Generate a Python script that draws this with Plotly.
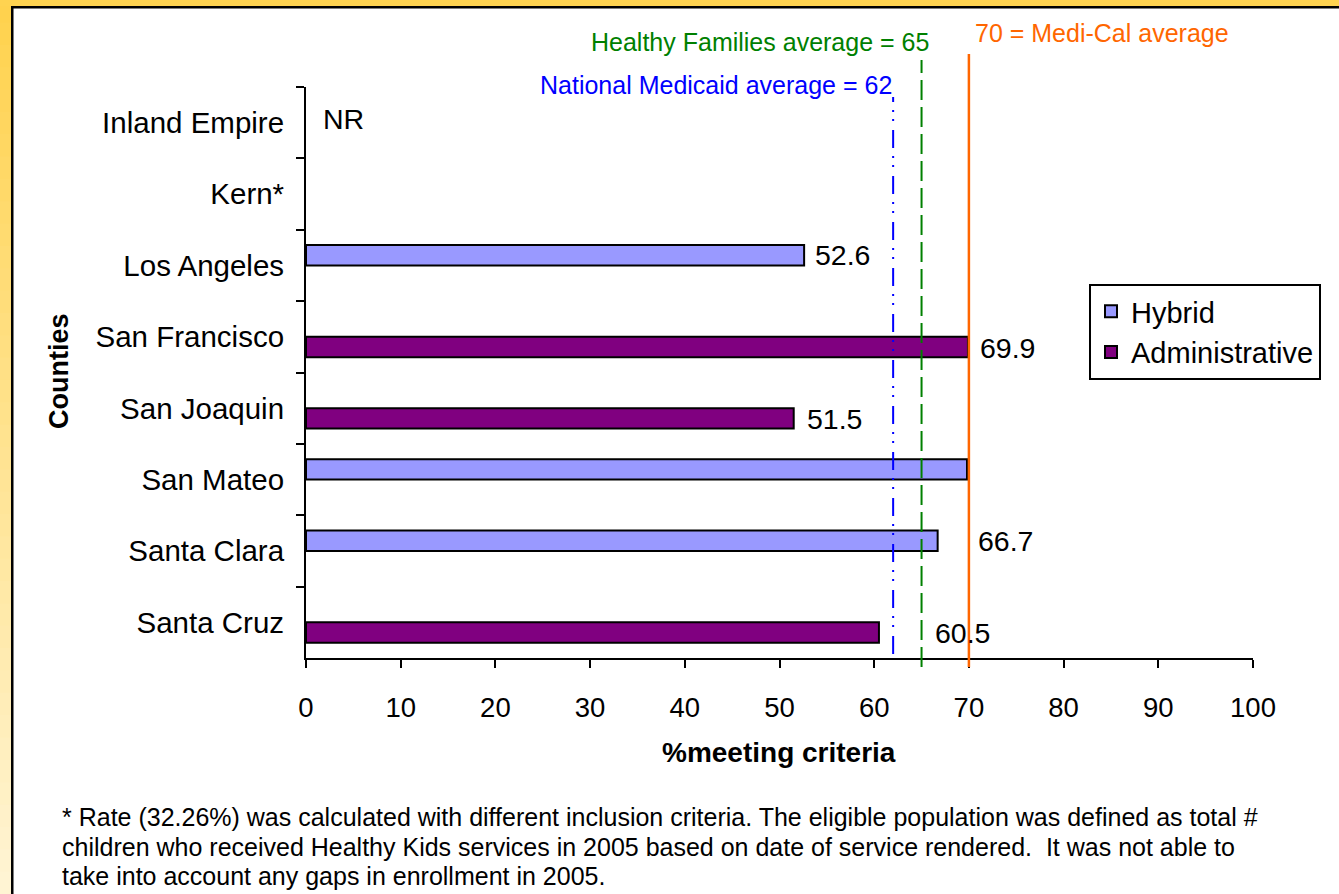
import plotly.graph_objects as go

# ---- data -----------------------------------------------------------------
counties = ["Inland Empire", "Kern*", "Los Angeles", "San Francisco",
            "San Joaquin", "San Mateo", "Santa Clara", "Santa Cruz"]
hybrid = [None, None, 52.6, None, None, 69.8, 66.7, None]
administrative = [None, None, None, 69.9, 51.5, None, None, 60.5]
labelled_counties = ["Los Angeles", "San Francisco", "San Joaquin",
                     "Santa Clara", "Santa Cruz"]
not_reported = ["Inland Empire"]
x_ticks = [0, 10, 20, 30, 40, 50, 60, 70, 80, 90, 100]

benchmark_values = [62, 65, 70]
benchmark_texts = ["National Medicaid average = 62",
                   "Healthy Families average = 65",
                   "70 = Medi-Cal average"]

footnote_lines = [
    "* Rate (32.26%) was calculated with different inclusion criteria. "
    "The eligible population was defined as total #",
    "children who received Healthy Kids services in 2005 based on date of "
    "service rendered.&nbsp; It was not able to",
    "take into account any gaps in enrollment in 2005.",
]

# ---- layout helpers -------------------------------------------------------
W, H = 1339, 894
PX_L, PX_R, PX_T, PX_B = 306, 1253, 87, 658
FONT = "Liberation Sans, Arial, sans-serif"


def px_x(px):
    return (px - PX_L) / (PX_R - PX_L)


def px_y(py):
    return (PX_B - py) / (PX_B - PX_T)


HYBRID_COLOR = "#9999FF"
ADMIN_COLOR = "#800080"

fig = go.Figure()
fig.add_trace(go.Bar(
    name="Hybrid", y=counties, x=hybrid, orientation="h",
    marker=dict(color=HYBRID_COLOR, line=dict(color="black", width=2)),
    legendgroup="h", hoverinfo="x+y",
))
fig.add_trace(go.Bar(
    name="Administrative", y=counties, x=administrative, orientation="h",
    marker=dict(color=ADMIN_COLOR, line=dict(color="black", width=2)),
    legendgroup="a", hoverinfo="x+y",
))

shapes = []
annotations = []

# frame: gradient strip on the left, band on top, black inner edge
n_steps = 40
c0 = (255, 210, 78)
c1 = (255, 244, 211)
for i in range(n_steps):
    t = i / (n_steps - 1)
    col = "rgb({},{},{})".format(*[round(a + (b - a) * t) for a, b in zip(c0, c1)])
    y0 = H * i / n_steps
    y1 = H * (i + 1) / n_steps + 1
    shapes.append(dict(type="rect", xref="paper", yref="paper", layer="below",
                       x0=px_x(0), x1=px_x(11), y0=px_y(y0), y1=px_y(y1),
                       fillcolor=col, line=dict(width=0)))
shapes.append(dict(type="rect", xref="paper", yref="paper", layer="below",
                   x0=px_x(0), x1=px_x(W + 2), y0=px_y(-2), y1=px_y(6),
                   fillcolor="rgb(255,211,80)", line=dict(width=0)))
shapes.append(dict(type="rect", xref="paper", yref="paper", layer="below",
                   x0=px_x(11), x1=px_x(W + 2), y0=px_y(6), y1=px_y(8.5),
                   fillcolor="black", line=dict(width=0)))
shapes.append(dict(type="rect", xref="paper", yref="paper", layer="below",
                   x0=px_x(11), x1=px_x(13.5), y0=px_y(6), y1=px_y(H + 2),
                   fillcolor="black", line=dict(width=0)))

# benchmark lines and their captions
line_styles = [
    dict(color="#0000FF", width=2, dash="18px,9px,2px,7px,2px,8px"),
    dict(color="#008000", width=2, dash="20px,7px"),
    dict(color="#FF6600", width=2.5, dash="solid"),
]
line_spans = [(97, 654), (60, 667), (54, 667)]
caption_pos = [  # (pixel y centre, anchor, x shift, colour)
    (85, "right", 1, "#0000FF"),
    (42, "right", 9, "#008000"),
    (33, "left", 4, "#FF6600"),
]
for val, txt, style, span, cap in zip(benchmark_values, benchmark_texts,
                                       line_styles, line_spans, caption_pos):
    shapes.append(dict(type="line", xref="x", yref="paper",
                       x0=val, x1=val, y0=px_y(span[1]), y1=px_y(span[0]),
                       line=style, layer="above"))
    annotations.append(dict(xref="x", yref="paper", x=val, y=px_y(cap[0]),
                            xanchor=cap[1], yanchor="middle", xshift=cap[2],
                            text=txt, showarrow=False,
                            font=dict(family=FONT, size=25, color=cap[3])))

# value labels beside bars
label_gap = {"Los Angeles": 9, "San Francisco": 10, "San Joaquin": 11,
             "Santa Clara": 38, "Santa Cruz": 54}
for county, h_val, a_val in zip(counties, hybrid, administrative):
    if county not in labelled_counties:
        continue
    val, shift = (h_val, 10) if h_val is not None else (a_val, -11)
    annotations.append(dict(xref="x", yref="y", x=val, y=county,
                            xanchor="left", yanchor="middle",
                            xshift=label_gap[county], yshift=shift,
                            text=f"{val:.1f}", showarrow=False,
                            font=dict(family=FONT, size=28.5, color="black")))
for county in not_reported:
    annotations.append(dict(xref="x", yref="y", x=0, y=county,
                            xanchor="left", yanchor="middle", xshift=15,
                            yshift=4, text="NR", showarrow=False,
                            font=dict(family=FONT, size=28.5, color="black")))

# axis titles
annotations.append(dict(xref="paper", yref="paper", x=px_x(779), y=px_y(752),
                        xanchor="center", yanchor="middle",
                        text="<b>%meeting criteria</b>", showarrow=False,
                        font=dict(family=FONT, size=28, color="black")))
annotations.append(dict(xref="paper", yref="paper", x=px_x(59), y=px_y(371),
                        xanchor="center", yanchor="middle", textangle=-90,
                        text="<b>Counties</b>", showarrow=False,
                        font=dict(family=FONT, size=27, color="black")))

# footnote, one annotation per line
footnote_y = [817, 847, 876]
for line, ypx in zip(footnote_lines, footnote_y):
    annotations.append(dict(xref="paper", yref="paper", x=px_x(60),
                            y=px_y(ypx), xanchor="left", yanchor="middle",
                            align="left", text=line, showarrow=False,
                            font=dict(family=FONT, size=25, color="black")))

fig.update_layout(
    width=W, height=H,
    margin=dict(l=PX_L, r=W - PX_R, t=PX_T, b=H - PX_B, pad=0),
    paper_bgcolor="white", plot_bgcolor="white",
    barmode="group", bargap=0.43, bargroupgap=0,
    font=dict(family=FONT, color="black"),
    showlegend=True,
    legend=dict(x=px_x(1089), y=px_y(284), xanchor="left", yanchor="top",
                bgcolor="white", bordercolor="black", borderwidth=2,
                font=dict(family=FONT, size=29, color="black"),
                traceorder="normal", tracegroupgap=10, itemwidth=30),
    shapes=shapes, annotations=annotations,
)
fig.update_xaxes(range=[0, 100], tickvals=x_ticks, ticks="outside",
                 ticklen=8, tickwidth=2, tickcolor="black",
                 showline=True, linecolor="black", linewidth=2,
                 showgrid=False, zeroline=False, ticklabelstandoff=16,
                 tickfont=dict(family=FONT, size=27.5, color="black"))
fig.update_yaxes(categoryorder="array", categoryarray=counties,
                 range=[len(counties) - 0.5, -0.5], tickson="boundaries",
                 ticks="outside", ticklen=8, tickwidth=2, tickcolor="black",
                 showline=True, linecolor="black", linewidth=2,
                 showgrid=False, zeroline=False, ticklabelstandoff=14,
                 tickfont=dict(family=FONT, size=29.5, color="black"))

fig.write_html("out.html")
